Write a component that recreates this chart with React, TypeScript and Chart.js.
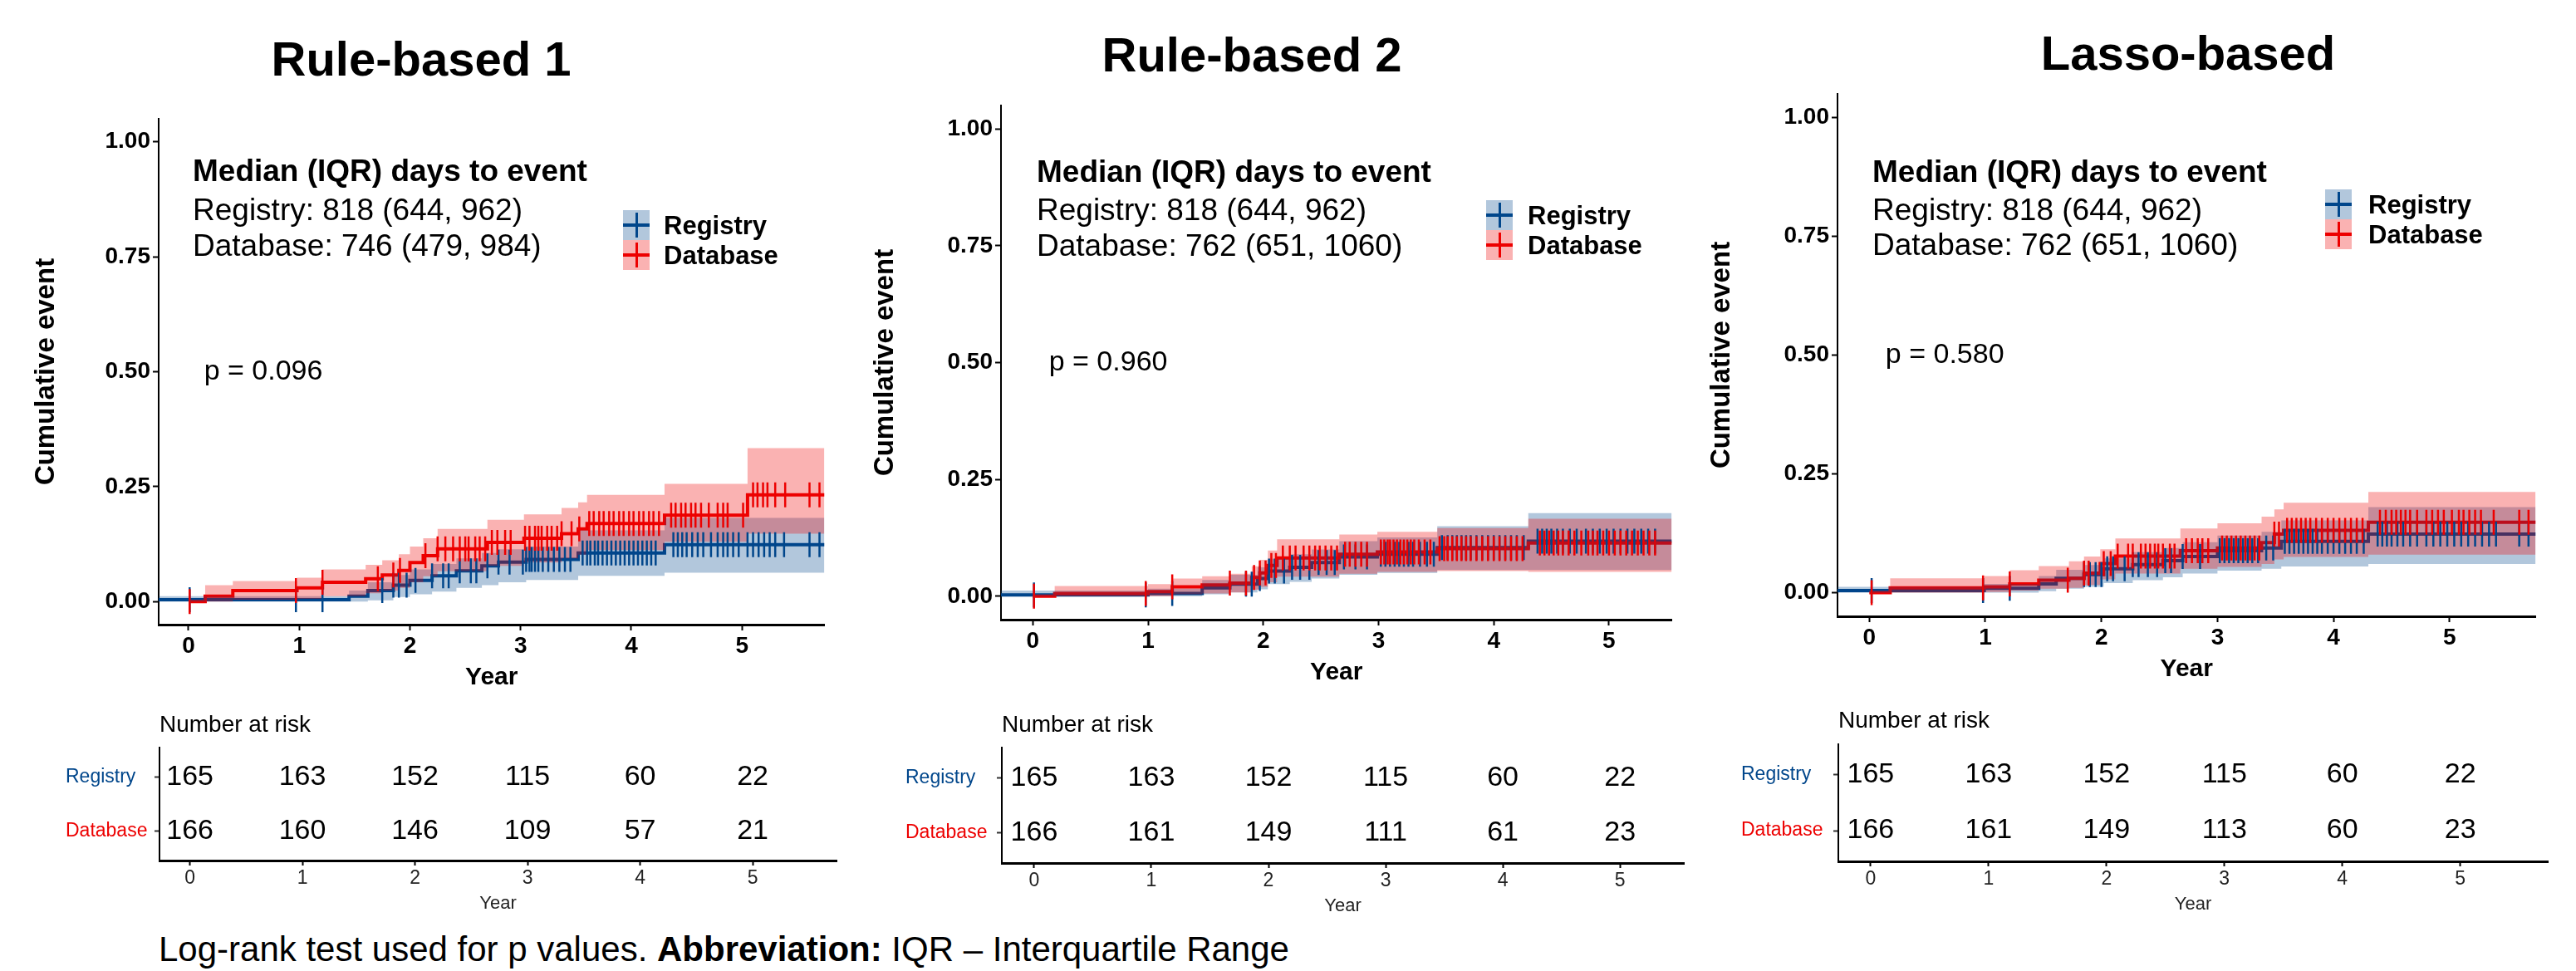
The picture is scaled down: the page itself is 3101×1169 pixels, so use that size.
import React, { useEffect, useRef } from 'react';
import { Chart, registerables } from 'chart.js';

Chart.register(...registerables);

const FONT = "'Liberation Sans', Arial, Helvetica, sans-serif";
const BLUE = '#00468B';
const RED = '#ED0000';
const BLUE_FILL = 'rgba(0,70,139,0.3)';
const RED_FILL = 'rgba(237,0,0,0.3)';

// ---------- labels / ticks ----------
const panelTitles = ['Rule-based 1', 'Rule-based 2', 'Lasso-based'];
const groupNames = ['Registry', 'Database'];
const yTickVals = [0, 0.25, 0.5, 0.75, 1];
const xTickVals = [0, 1, 2, 3, 4, 5];
const riskYears = [0, 1, 2, 3, 4, 5];
const xMins = [-0.27, -0.276, -0.274];
const xMaxes = [5.745, 5.545, 5.742];
const pValues = ['0.096', '0.960', '0.580'];
const medianRegistry = ['818 (644, 962)', '818 (644, 962)', '818 (644, 962)'];
const medianDatabase = ['746 (479, 984)', '762 (651, 1060)', '762 (651, 1060)'];

// ---------- Panel 1: Rule-based 1 ----------
const p1RegTimes = [-0.27, 1.45, 1.62, 1.85, 2.0, 2.2, 2.42, 2.65, 2.8, 3.05, 3.52, 4.3];
const p1RegCum = [0.004, 0.012, 0.024, 0.036, 0.046, 0.056, 0.067, 0.078, 0.086, 0.092, 0.106, 0.124];
const p1RegLower = [0, 0, 0.003, 0.01, 0.016, 0.022, 0.03, 0.036, 0.042, 0.047, 0.056, 0.063];
const p1RegUpper = [0.012, 0.024, 0.042, 0.058, 0.07, 0.082, 0.094, 0.106, 0.114, 0.12, 0.155, 0.182];
const p1RegCensor = [0.01, 0.97, 1.21, 1.75, 1.85, 1.9, 1.97, 2.05, 2.2, 2.3, 2.35, 2.45, 2.55, 2.6, 2.7, 2.8, 2.9, 3.02, 3.05, 3.08, 3.1, 3.13, 3.16, 3.2, 3.25, 3.3, 3.35, 3.4, 3.45, 3.56, 3.6, 3.63, 3.67, 3.7, 3.74, 3.78, 3.82, 3.86, 3.9, 3.94, 3.98, 4.02, 4.06, 4.1, 4.14, 4.18, 4.22, 4.38, 4.42, 4.46, 4.5, 4.55, 4.6, 4.65, 4.72, 4.78, 4.83, 4.87, 4.92, 4.97, 5.05, 5.1, 5.15, 5.2, 5.25, 5.3, 5.38, 5.61, 5.7];

const p1DbTimes = [0, 0.15, 0.4, 0.98, 1.21, 1.6, 1.75, 1.9, 2.0, 2.12, 2.25, 2.7, 3.03, 3.37, 3.52, 3.6, 4.3, 5.05];
const p1DbCum = [0, 0.012, 0.024, 0.03, 0.042, 0.05, 0.058, 0.068, 0.085, 0.1, 0.115, 0.129, 0.138, 0.148, 0.158, 0.17, 0.188, 0.232];
const p1DbLower = [0, 0, 0.004, 0.006, 0.012, 0.018, 0.024, 0.03, 0.042, 0.055, 0.066, 0.078, 0.085, 0.094, 0.102, 0.112, 0.13, 0.148];
const p1DbUpper = [0, 0.036, 0.045, 0.052, 0.07, 0.08, 0.09, 0.103, 0.12, 0.138, 0.158, 0.178, 0.19, 0.204, 0.216, 0.232, 0.256, 0.334];
const p1DbCensor = [0.01, 0.97, 1.21, 1.71, 1.85, 1.91, 2.14, 2.25, 2.32, 2.39, 2.45, 2.5, 2.53, 2.59, 2.63, 2.68, 2.74, 2.79, 2.86, 2.91, 3.04, 3.08, 3.13, 3.16, 3.19, 3.24, 3.28, 3.33, 3.37, 3.46, 3.53, 3.62, 3.66, 3.71, 3.75, 3.8, 3.84, 3.89, 3.93, 3.98, 4.02, 4.07, 4.11, 4.16, 4.2, 4.25, 4.36, 4.4, 4.45, 4.49, 4.54, 4.58, 4.63, 4.7, 4.78, 4.83, 4.87, 5.01, 5.1, 5.14, 5.19, 5.23, 5.3, 5.39, 5.61, 5.7];

const p1RiskReg = [165, 163, 152, 115, 60, 22];
const p1RiskDb = [166, 160, 146, 109, 57, 21];

// ---------- Panel 2: Rule-based 2 ----------
const p2RegTimes = [-0.276, 1.0, 1.47, 1.71, 1.95, 2.04, 2.23, 2.42, 2.66, 2.99, 3.51, 4.3];
const p2RegCum = [0.003, 0.006, 0.018, 0.026, 0.038, 0.054, 0.062, 0.072, 0.084, 0.09, 0.104, 0.118];
const p2RegLower = [0, 0, 0.004, 0.008, 0.015, 0.026, 0.031, 0.038, 0.046, 0.05, 0.056, 0.056];
const p2RegUpper = [0.012, 0.016, 0.035, 0.046, 0.062, 0.08, 0.09, 0.1, 0.118, 0.126, 0.15, 0.178];
const p2RegCensor = [0.01, 0.98, 1.21, 1.85, 1.9, 1.97, 2.05, 2.1, 2.18, 2.25, 2.32, 2.4, 2.48, 2.55, 2.62, 2.7, 2.8, 2.9, 3.02, 3.06, 3.1, 3.14, 3.18, 3.22, 3.26, 3.3, 3.36, 3.42, 3.48, 3.55, 3.6, 3.64, 3.68, 3.72, 3.76, 3.8, 3.85, 3.9, 3.95, 4.0, 4.05, 4.1, 4.15, 4.2, 4.26, 4.38, 4.42, 4.46, 4.5, 4.55, 4.6, 4.66, 4.72, 4.8, 4.86, 4.92, 4.98, 5.04, 5.1, 5.16, 5.22, 5.28, 5.34, 5.4];

const p2DbTimes = [0, 0.19, 1.0, 1.21, 1.47, 1.71, 1.9, 1.97, 2.04, 2.12, 2.66, 2.99, 3.51, 4.3];
const p2DbCum = [0, 0.006, 0.01, 0.02, 0.024, 0.028, 0.04, 0.05, 0.066, 0.082, 0.09, 0.095, 0.102, 0.114];
const p2DbLower = [0, 0, 0, 0.004, 0.006, 0.008, 0.014, 0.02, 0.03, 0.042, 0.048, 0.052, 0.054, 0.052];
const p2DbUpper = [0, 0.022, 0.026, 0.038, 0.043, 0.048, 0.064, 0.078, 0.098, 0.122, 0.132, 0.138, 0.146, 0.166];
const p2DbCensor = [0.01, 0.98, 1.21, 1.71, 1.85, 1.92, 1.97, 2.02, 2.07, 2.11, 2.17, 2.23, 2.28, 2.35, 2.4, 2.45, 2.49, 2.54, 2.59, 2.64, 2.71, 2.75, 2.8, 2.85, 2.9, 3.02, 3.05, 3.08, 3.1, 3.13, 3.16, 3.19, 3.22, 3.25, 3.28, 3.31, 3.35, 3.4, 3.45, 3.53, 3.57, 3.6, 3.64, 3.68, 3.72, 3.76, 3.8, 3.85, 3.9, 3.95, 4.0, 4.05, 4.1, 4.15, 4.2, 4.25, 4.4, 4.44, 4.48, 4.52, 4.56, 4.6, 4.65, 4.7, 4.76, 4.82, 4.86, 4.9, 4.95, 5.0, 5.05, 5.1, 5.15, 5.2, 5.25, 5.3, 5.35, 5.4];

const p2RiskReg = [165, 163, 152, 115, 60, 22];
const p2RiskDb = [166, 161, 149, 111, 61, 23];

// ---------- Panel 3: Lasso-based ----------
const p3RegTimes = [-0.274, 0.99, 1.46, 1.61, 1.85, 2.02, 2.27, 2.53, 2.7, 3.0, 3.38, 3.55, 4.3];
const p3RegCum = [0.004, 0.009, 0.018, 0.03, 0.038, 0.05, 0.059, 0.067, 0.076, 0.088, 0.094, 0.108, 0.123];
const p3RegLower = [0, 0, 0.003, 0.008, 0.012, 0.02, 0.026, 0.032, 0.04, 0.046, 0.05, 0.055, 0.06];
const p3RegUpper = [0.012, 0.018, 0.035, 0.048, 0.058, 0.072, 0.085, 0.094, 0.106, 0.12, 0.128, 0.152, 0.18];
const p3RegCensor = [0.02, 0.98, 1.21, 1.85, 1.9, 1.95, 2.0, 2.05, 2.1, 2.2, 2.27, 2.32, 2.4, 2.48, 2.55, 2.6, 2.7, 2.85, 3.02, 3.06, 3.1, 3.14, 3.18, 3.22, 3.26, 3.3, 3.35, 3.42, 3.48, 3.58, 3.62, 3.66, 3.7, 3.74, 3.78, 3.82, 3.86, 3.9, 3.95, 4.0, 4.05, 4.1, 4.15, 4.2, 4.26, 4.38, 4.42, 4.46, 4.5, 4.55, 4.6, 4.66, 4.72, 4.8, 4.86, 4.92, 4.98, 5.04, 5.1, 5.16, 5.22, 5.28, 5.34, 5.4, 5.6, 5.68];

const p3DbTimes = [0, 0.18, 0.99, 1.21, 1.46, 1.72, 1.85, 1.99, 2.12, 2.68, 3.0, 3.38, 3.49, 3.57, 4.3];
const p3DbCum = [0, 0.01, 0.012, 0.018, 0.026, 0.03, 0.041, 0.061, 0.077, 0.088, 0.094, 0.105, 0.123, 0.131, 0.148];
const p3DbLower = [0, 0, 0.001, 0.004, 0.008, 0.01, 0.016, 0.028, 0.04, 0.05, 0.054, 0.06, 0.07, 0.075, 0.08];
const p3DbUpper = [0, 0.03, 0.035, 0.047, 0.056, 0.066, 0.076, 0.091, 0.114, 0.135, 0.146, 0.16, 0.175, 0.189, 0.212];
const p3DbCensor = [0.02, 0.98, 1.21, 1.71, 1.85, 1.89, 2.02, 2.08, 2.14, 2.23, 2.27, 2.34, 2.38, 2.42, 2.46, 2.49, 2.53, 2.59, 2.63, 2.73, 2.78, 2.83, 2.87, 2.92, 3.04, 3.08, 3.12, 3.16, 3.2, 3.24, 3.28, 3.32, 3.36, 3.49, 3.53, 3.6, 3.64, 3.68, 3.72, 3.76, 3.8, 3.85, 3.9, 3.95, 4.0, 4.05, 4.1, 4.15, 4.2, 4.25, 4.4, 4.45, 4.5, 4.54, 4.58, 4.62, 4.66, 4.72, 4.8, 4.85, 4.9, 4.95, 5.02, 5.08, 5.12, 5.17, 5.22, 5.27, 5.38, 5.6, 5.68];

const p3RiskReg = [165, 163, 152, 115, 60, 22];
const p3RiskDb = [166, 161, 149, 113, 60, 23];

// ---------- tables built from the arrays ----------
type Series = { times: number[]; cum: number[]; lower: number[]; upper: number[]; censor: number[] };
const regSeries: Series[] = [
  { times: p1RegTimes, cum: p1RegCum, lower: p1RegLower, upper: p1RegUpper, censor: p1RegCensor },
  { times: p2RegTimes, cum: p2RegCum, lower: p2RegLower, upper: p2RegUpper, censor: p2RegCensor },
  { times: p3RegTimes, cum: p3RegCum, lower: p3RegLower, upper: p3RegUpper, censor: p3RegCensor },
];
const dbSeries: Series[] = [
  { times: p1DbTimes, cum: p1DbCum, lower: p1DbLower, upper: p1DbUpper, censor: p1DbCensor },
  { times: p2DbTimes, cum: p2DbCum, lower: p2DbLower, upper: p2DbUpper, censor: p2DbCensor },
  { times: p3DbTimes, cum: p3DbCum, lower: p3DbLower, upper: p3DbUpper, censor: p3DbCensor },
];
const riskReg = [p1RiskReg, p2RiskReg, p3RiskReg];
const riskDb = [p1RiskDb, p2RiskDb, p3RiskDb];

// ---------- layout (pixels) ----------
const layouts = [
  { plotL: 191, plotR: 1007, plotT: 143, plotB: 752, yTitleX: 56, tabL: 192, tabT: 900, tabB: 1036, tabLabelL: 79, nRiskY: 872, titleX: 507, titleY: 71, annX: 232, annY: [205, 252, 295], legX: 750, legY: 253, legLabelX: 799 },
  { plotL: 1205, plotR: 2027, plotT: 127, plotB: 746, yTitleX: 1066, tabL: 1206, tabT: 900, tabB: 1039, tabLabelL: 1090, nRiskY: 872, titleX: 1507, titleY: 66, annX: 1248, annY: [206, 252, 295], legX: 1789, legY: 241, legLabelX: 1839 },
  { plotL: 2212, plotR: 3067, plotT: 113, plotB: 742, yTitleX: 2073, tabL: 2213, tabT: 896, tabB: 1037, tabLabelL: 2096, nRiskY: 867, titleX: 2634, titleY: 64, annX: 2254, annY: [206, 252, 294], legX: 2799, legY: 228, legLabelX: 2851 },
];
const Y_W = 160;
const X_H = 90;
const PAD_T = 24;
const PAD_R = 3;
const T_X_H = 70;
const T_PAD_T = 20;

function stepAt(times: number[], vals: number[], t: number): number {
  let v = vals[0];
  for (let i = 0; i < times.length; i++) {
    if (times[i] <= t) v = vals[i];
    else break;
  }
  return v;
}

function stepPoints(times: number[], vals: number[], xEnd: number) {
  const pts = times.map((t, i) => ({ x: t, y: vals[i] }));
  pts.push({ x: xEnd, y: vals[vals.length - 1] });
  return pts;
}

function KMPlot({ idx }: { idx: number }) {
  const ref = useRef<HTMLCanvasElement | null>(null);
  const L = layouts[idx];
  const left = L.plotL - Y_W;
  const top = L.plotT - PAD_T;
  const width = L.plotR + PAD_R - left;
  const height = L.plotB + X_H - top;

  useEffect(() => {
    if (!ref.current) return;
    const reg = regSeries[idx];
    const db = dbSeries[idx];
    const xMin = xMins[idx];
    const xMax = xMaxes[idx];
    const lineDs = (s: Series, color: string, order: number) => ({
      data: stepPoints(s.times, s.cum, xMax),
      borderColor: color, borderWidth: 4, pointRadius: 0, stepped: true, fill: false, order,
    });
    const bandDs = (s: Series, key: 'lower' | 'upper', fillColor: string, order: number, fill: any) => ({
      data: stepPoints(s.times, s[key], xMax),
      borderColor: 'rgba(0,0,0,0)', borderWidth: 0, pointRadius: 0, stepped: true,
      fill, backgroundColor: fillColor, order,
    });
    const censorDs = (s: Series, color: string, order: number) => ({
      data: s.censor.map((t) => ({ x: t, y: stepAt(s.times, s.cum, t) })),
      showLine: false, pointStyle: 'line', pointRotation: 90, pointRadius: 15,
      pointBorderWidth: 2.5, pointBorderColor: color, borderColor: color, backgroundColor: color, order,
    });
    const pvalPlugin = {
      id: 'pval' + idx,
      afterDatasetsDraw(chart: any) {
        const ctx = chart.ctx;
        const xs = chart.scales.x;
        const ys = chart.scales.y;
        ctx.save();
        ctx.font = `34px ${FONT}`;
        ctx.fillStyle = '#000';
        ctx.textAlign = 'left';
        ctx.textBaseline = 'middle';
        ctx.fillText('p = ' + pValues[idx], xs.getPixelForValue(0.14), ys.getPixelForValue(0.5));
        ctx.restore();
      },
    };
    const chart = new Chart(ref.current, {
      type: 'line',
      data: {
        datasets: [
          lineDs(reg, BLUE, 6),
          lineDs(db, RED, 5),
          bandDs(reg, 'upper', BLUE_FILL, 4, '+1'),
          bandDs(reg, 'lower', BLUE_FILL, 4, false),
          bandDs(db, 'upper', RED_FILL, 3, '+1'),
          bandDs(db, 'lower', RED_FILL, 3, false),
          censorDs(reg, BLUE, 1),
          censorDs(db, RED, 0),
        ] as any,
      },
      options: {
        animation: false,
        responsive: false,
        events: [],
        layout: { padding: { top: PAD_T, right: PAD_R, bottom: 0, left: 0 } },
        plugins: { legend: { display: false }, tooltip: { enabled: false }, title: { display: false } },
        scales: {
          x: {
            type: 'linear', min: xMin, max: xMax,
            afterBuildTicks: (s: any) => { s.ticks = xTickVals.map((v) => ({ value: v })); },
            afterFit: (s: any) => { s.height = X_H; },
            border: { display: true, color: '#000', width: 3 },
            grid: { display: true, drawOnChartArea: false, drawTicks: true, tickLength: 7, tickWidth: 2, tickColor: '#000' },
            ticks: { color: '#000', font: { family: FONT, size: 28, weight: 'bold', lineHeight: 1 }, padding: 5, maxRotation: 0, autoSkip: false, callback: (v: any) => String(v) },
            title: { display: true, text: 'Year', color: '#000', font: { family: FONT, size: 30, weight: 'bold', lineHeight: 1 }, padding: { top: 0, bottom: 11 } },
          },
          y: {
            type: 'linear', min: -0.05, max: 1.05,
            afterBuildTicks: (s: any) => { s.ticks = yTickVals.map((v) => ({ value: v })); },
            afterFit: (s: any) => { s.width = Y_W; },
            border: { display: true, color: '#000', width: 2 },
            grid: { display: true, drawOnChartArea: false, drawTicks: true, tickLength: 7, tickWidth: 2, tickColor: '#000' },
            ticks: { color: '#000', font: { family: FONT, size: 28, weight: 'bold', lineHeight: 1 }, padding: 3, callback: (v: any) => Number(v).toFixed(2) },
            title: { display: true, text: 'Cumulative event', color: '#000', font: { family: FONT, size: 33, weight: 'bold', lineHeight: 1 }, padding: { top: L.yTitleX - left - 16.5, bottom: 0 } },
          },
        },
      } as any,
      plugins: [pvalPlugin],
    });
    return () => chart.destroy();
  }, [idx]);

  return <canvas ref={ref} width={width} height={height} style={{ position: 'absolute', left, top, width, height }} />;
}

function RiskTable({ idx }: { idx: number }) {
  const ref = useRef<HTMLCanvasElement | null>(null);
  const L = layouts[idx];
  const left = L.tabLabelL;
  const top = L.tabT - T_PAD_T;
  const width = L.plotR + PAD_R - left;
  const height = L.tabB + T_X_H - top;

  useEffect(() => {
    if (!ref.current) return;
    const numbersPlugin = {
      id: 'riskNumbers' + idx,
      afterDatasetsDraw(chart: any) {
        const ctx = chart.ctx;
        ctx.save();
        ctx.font = `34px ${FONT}`;
        ctx.fillStyle = '#000';
        ctx.textAlign = 'center';
        ctx.textBaseline = 'middle';
        chart.data.datasets.forEach((ds: any, d: number) => {
          const meta = chart.getDatasetMeta(d);
          meta.data.forEach((el: any, i: number) => {
            ctx.fillText(String(ds.data[i].n), el.x, el.y);
          });
        });
        ctx.restore();
      },
    };
    const chart = new Chart(ref.current, {
      type: 'scatter',
      data: {
        datasets: [
          { data: riskYears.map((yr, i) => ({ x: yr, y: 2, n: riskReg[idx][i] })), pointRadius: 0 },
          { data: riskYears.map((yr, i) => ({ x: yr, y: 1, n: riskDb[idx][i] })), pointRadius: 0 },
        ] as any,
      },
      options: {
        animation: false,
        responsive: false,
        events: [],
        layout: { padding: { top: T_PAD_T, right: PAD_R, bottom: 0, left: 0 } },
        plugins: { legend: { display: false }, tooltip: { enabled: false } },
        scales: {
          x: {
            type: 'linear', min: xMins[idx], max: xMaxes[idx],
            afterBuildTicks: (s: any) => { s.ticks = riskYears.map((v) => ({ value: v })); },
            afterFit: (s: any) => { s.height = T_X_H; },
            border: { display: true, color: '#000', width: 3 },
            grid: { display: true, drawOnChartArea: false, drawTicks: true, tickLength: 6, tickWidth: 2, tickColor: '#000' },
            ticks: { color: '#222', font: { family: FONT, size: 23, lineHeight: 1 }, padding: 4.5, maxRotation: 0, autoSkip: false, callback: (v: any) => String(v) },
            title: { display: true, text: 'Year', color: '#222', font: { family: FONT, size: 22, lineHeight: 1 }, padding: { top: 0, bottom: 7 } },
          },
          y: {
            type: 'linear', min: 0.45, max: 2.55,
            afterBuildTicks: (s: any) => { s.ticks = [{ value: 1 }, { value: 2 }]; },
            afterFit: (s: any) => { s.width = L.tabL - left; },
            border: { display: true, color: '#000', width: 2 },
            grid: { display: true, drawOnChartArea: false, drawTicks: true, tickLength: 6, tickWidth: 2, tickColor: '#333' },
            ticks: {
              crossAlign: 'far',
              font: { family: FONT, size: 23, lineHeight: 1 },
              padding: 3,
              color: (c: any) => (c.tick && c.tick.value === 2 ? BLUE : RED),
              callback: (v: any) => (Number(v) === 2 ? groupNames[0] : groupNames[1]),
            },
          },
        },
      } as any,
      plugins: [numbersPlugin],
    });
    return () => chart.destroy();
  }, [idx]);

  return <canvas ref={ref} width={width} height={height} style={{ position: 'absolute', left, top, width, height }} />;
}

function Text({ x, cy, size, bold, children, color, align }: any) {
  const style: any = {
    position: 'absolute', top: cy - size / 2, fontSize: size, lineHeight: size + 'px',
    fontWeight: bold ? 'bold' : 'normal', whiteSpace: 'nowrap', color: color || '#000',
  };
  if (align === 'center') {
    style.left = x - 600; style.width = 1200; style.textAlign = 'center';
  } else {
    style.left = x;
  }
  return <div style={style}>{children}</div>;
}

function LegendKey({ x, y, line, fill }: any) {
  return (
    <div style={{ position: 'absolute', left: x, top: y, width: 32, height: 36, background: fill }}>
      <div style={{ position: 'absolute', left: 0, top: 16, width: 32, height: 4, background: line }} />
      <div style={{ position: 'absolute', left: 14.5, top: 3, width: 3, height: 30, background: line }} />
    </div>
  );
}

export default function App() {
  return (
    <div style={{ position: 'absolute', left: 0, top: 0, width: 3101, height: 1169, background: '#fff', overflow: 'hidden', fontFamily: FONT, color: '#000' }}>
      {layouts.map((L, i) => (
        <React.Fragment key={i}>
          <Text x={L.titleX} cy={L.titleY} size={58} bold align="center">{panelTitles[i]}</Text>
          <KMPlot idx={i} />
          <RiskTable idx={i} />
          <Text x={L.annX} cy={L.annY[0]} size={37} bold>Median (IQR) days to event</Text>
          <Text x={L.annX} cy={L.annY[1]} size={37}>{groupNames[0]}: {medianRegistry[i]}</Text>
          <Text x={L.annX} cy={L.annY[2]} size={37}>{groupNames[1]}: {medianDatabase[i]}</Text>
          <LegendKey x={L.legX} y={L.legY} line={BLUE} fill={BLUE_FILL} />
          <LegendKey x={L.legX} y={L.legY + 36} line={RED} fill={RED_FILL} />
          <Text x={L.legLabelX} cy={L.legY + 18} size={31} bold>{groupNames[0]}</Text>
          <Text x={L.legLabelX} cy={L.legY + 54} size={31} bold>{groupNames[1]}</Text>
          <Text x={L.tabL} cy={L.nRiskY} size={28}>Number at risk</Text>
        </React.Fragment>
      ))}
      <div style={{ position: 'absolute', left: 191, top: 1122, fontSize: 42, lineHeight: '42px', whiteSpace: 'nowrap' }}>
        Log-rank test used for p values. <b>Abbreviation:</b> IQR – Interquartile Range
      </div>
    </div>
  );
}
